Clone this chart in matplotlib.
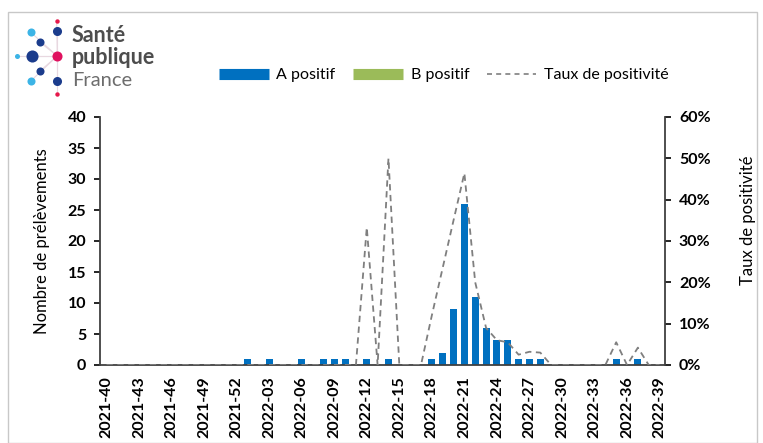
import matplotlib
matplotlib.use("Agg")
import matplotlib.pyplot as plt
from matplotlib.lines import Line2D
from matplotlib.patches import Rectangle
from matplotlib.ticker import FuncFormatter
import numpy as np

plt.rcParams['font.family'] = ['Lato', 'DejaVu Sans']

# weekly data, 2021-40 .. 2022-39
weeks = ["2021-%02d" % w for w in range(40, 53)] + ["2022-%02d" % w for w in range(1, 40)]

a_positif = [0, 0, 0, 0, 0, 0, 0, 0, 0, 0, 0, 0, 0,
             1, 0, 1, 0, 0, 1, 0, 1, 1, 1, 0, 1, 0, 1, 0, 0, 0, 1, 2, 9, 26, 11,
             6, 4, 4, 1, 1, 1, 0, 0, 0, 0, 0, 0, 1, 0, 1, 0, 0]
b_positif = [0] * 52
taux_positivite = [0, 0, 0, 0, 0, 0, 0, 0, 0, 0, 0, 0, 0,
                   0, 0, 0, 0, 0, 0, 0, 0, 0, 0, 0, 33.3, 0, 50, 0, 0, 0, 12, 23.5, 35, 46.4, 20,
                   9, 6, 5.5, 2.5, 3.2, 3, 0, 0, 0, 0, 0, 0, 5.5, 0, 4.2, 0, 0]

blue = "#0070C0"
green = "#9BBB59"
grey = "#7F7F7F"

fig = plt.figure(figsize=(7.63, 4.43), dpi=100)
ax = fig.add_axes([100 / 763, 1 - 365 / 443, 565 / 763, 248 / 443])
ax2 = ax.twinx()

x = np.arange(len(weeks))
ax.bar(x, a_positif, width=0.65, color=blue, zorder=2)
ax.bar(x, b_positif, width=0.65, bottom=a_positif, color=green, zorder=2)
ax2.plot(x, taux_positivite, color=grey, lw=1.3, ls=(0, (3.5, 2.5)))

ax.set_xlim(-0.6, len(weeks) - 0.5)
ax.set_ylim(0, 40)
ax.set_yticks(range(0, 41, 5))
ax2.set_ylim(0, 60)
ax2.set_yticks(range(0, 61, 10))
ax2.yaxis.set_major_formatter(FuncFormatter(lambda v, p: "%d%%" % v))

ax.set_xticks(x[::3])
ax.set_xticklabels(weeks[::3], rotation=90, fontweight="bold", fontsize=11.5)
ax.tick_params(axis="x", length=0, pad=8)
ax.tick_params(axis="y", length=4, width=1.2, labelsize=11.5, pad=6)
ax2.tick_params(axis="y", length=4, width=1.2, labelsize=11.5, pad=6)
for lbl in ax.get_yticklabels() + ax2.get_yticklabels():
    lbl.set_fontweight("bold")

for a in (ax, ax2):
    a.spines["top"].set_visible(False)
    for s in ("left", "right", "bottom"):
        a.spines[s].set_linewidth(1.3)
        a.spines[s].set_color("#404040")
ax.spines["right"].set_visible(False)
ax2.spines["left"].set_visible(False)
ax2.spines["bottom"].set_visible(False)

ax.set_ylabel("Nombre de prélèvements", fontsize=12)
ax.yaxis.set_label_coords(-0.088, 0.5)
ax2.set_ylabel("Taux de positivité", fontsize=12)
ax2.yaxis.set_label_coords(1.133, 0.585)

handles = [Line2D([], [], color=blue, lw=8, solid_capstyle="butt"),
           Line2D([], [], color=green, lw=8, solid_capstyle="butt"),
           Line2D([], [], color=grey, lw=1.2, ls=(0, (3, 2.5)))]
fig.legend(handles, ["A positif", "B positif", "Taux de positivité"],
           loc="center", bbox_to_anchor=(444 / 763, 1 - 75 / 443), ncol=3,
           frameon=False, fontsize=11.5, handlelength=3.1, columnspacing=1.1,
           handletextpad=0.5)

# frame round the whole picture
fig.patches.append(Rectangle((8 / 763, 0), 1 - 8 / 763 - 6 / 763, 1 - 12 / 443,
                             transform=fig.transFigure, fill=False,
                             edgecolor="#C8C8C8", lw=1))

# logo
logo = fig.add_axes([0, 1 - 100 / 443, 160 / 763, 90 / 443])
logo.set_xlim(0, 160)
logo.set_ylim(100, 10)
logo.axis("off")
cx, cy = 57.3, 56
dots = [(56.7, 20.7, 2.2, "#E6194B"), (30.7, 32.3, 4, "#3CB4E6"),
        (57.3, 31, 4.5, "#1B3C8C"), (40, 42.3, 4, "#1B3C8C"),
        (17.3, 56, 2.5, "#3CB4E6"), (31.7, 56, 6, "#1B3C8C"),
        (57.3, 56, 5, "#E0115F"), (40, 71, 4, "#1B3C8C"),
        (30.7, 81, 4, "#3CB4E6"), (57.3, 81, 4.5, "#1B3C8C"),
        (57.3, 94.3, 2.2, "#E6194B")]
for dx, dy, r, c in dots:
    logo.plot([cx, dx], [cy, dy], color="#E8D8E0", lw=0.8, zorder=1)
for dx, dy, r, c in dots:
    logo.plot(dx, dy, "o", ms=r * 1.45, color=c, mec="none", zorder=2)
logo.text(72, 36, "Santé", fontsize=15.5, fontweight="bold", color="#4D4D4D", va="center")
logo.text(72, 58, "publique", fontsize=15.5, fontweight="bold", color="#4D4D4D", va="center")
logo.text(72, 80, "France", fontsize=14.5, color="#6D6D6D", va="center")

fig.savefig("out.png", dpi=100)
